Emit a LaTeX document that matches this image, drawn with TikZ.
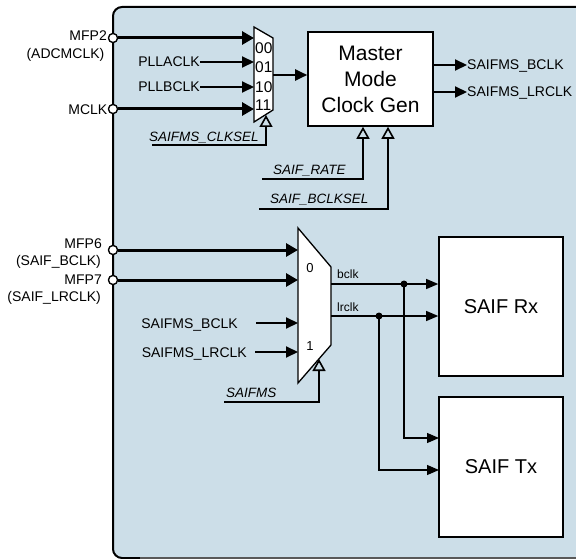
\documentclass[tikz,border=0pt]{standalone}
\usepackage{fontspec}
\setmainfont{Liberation Sans}
\usetikzlibrary{arrows.meta}
\definecolor{panel}{RGB}{204,222,232}
\begin{document}
\begin{tikzpicture}[x=1pt,y=-1pt,
  lbl/.style={inner sep=0pt, text height=10pt, text depth=0pt, font=\fontsize{14}{16}\selectfont},
  ilbl/.style={lbl, font=\fontsize{13.5}{16}\selectfont\itshape},
  slbl/.style={inner sep=0pt, text height=8.6pt, text depth=0pt, font=\fontsize{12}{14}\selectfont},
  sel/.style={inner sep=0pt, text height=11pt, text depth=0pt, font=\fontsize{15.5}{18}\selectfont},
  port/.style={circle, draw, fill=white, minimum size=9pt, inner sep=0pt, line width=1.2pt},
  jdot/.style={circle, fill, minimum size=7pt, inner sep=0pt},
  blk/.style={draw, fill=white, line width=1.6pt, inner sep=0pt},
  muxshape/.style={draw, fill=white, line width=1.3pt, line join=miter},
  thicksig/.style={line width=3pt, -{Triangle[length=12pt, width=13pt]}},
  sig/.style={line width=2pt, -{Triangle[length=12pt, width=11pt]}},
  thinsig/.style={line width=1.2pt, -{Triangle[length=12pt, width=10pt]}},
  ctrl/.style={line width=1.6pt, -{Triangle[open, length=12pt, width=13pt, line width=1.6pt]}}
]
\useasboundingbox (0,0) rectangle (576,559);
% panel
\begin{scope}
  \clip (0,0) rectangle (576,559);
  \fill[panel, rounded corners=9pt] (113,7) rectangle (620,558);
  \draw[line width=2pt, rounded corners=9pt] (620,7) -- (113,7) -- (113,558) -- (140,558);
  \draw[line width=1.6pt, black!65] (140,558) -- (620,558);
\end{scope}

% ---------- Mux 1 ----------
\draw[muxshape] (254,27) -- (273,38) -- (273,110) -- (254,122) -- cycle;
\coordinate (m1i0) at (254,38);
\coordinate (m1i1) at (254,62);
\coordinate (m1i2) at (254,87);
\coordinate (m1i3) at (254,109);
\coordinate (m1o) at (273,75);
\coordinate (m1sel) at (266,115);
\node[sel, anchor=west] (s00) at (255,48) {00};
\node[sel, anchor=west] (s01) at (255,67) {01};
\node[sel, anchor=west] (s10) at (255,87) {10};
\node[sel, anchor=west] (s11) at (255,105) {11};

% inputs of mux 1
\node[port] (pmfp2) at (113,38) {};
\node[port] (pmclk) at (113,109) {};
\node[lbl, anchor=east] (tmfp2) at (107,36) {MFP2};
\node[lbl, anchor=east] (tadc) at (104.5,53.3) {(ADCMCLK)};
\node[lbl, anchor=east] (tmclk) at (107.5,110) {MCLK};
\node[lbl, anchor=east] (tplla) at (200,62) {PLLACLK};
\node[lbl, anchor=east] (tpllb) at (200,87) {PLLBCLK};
\draw[thicksig] (pmfp2) -- (m1i0);
\draw[sig] (tplla.east) -- (m1i1);
\draw[sig] (tpllb.east) -- (m1i2);
\draw[thicksig] (pmclk) -- (m1i3);
\node[port] at (pmfp2) {};
\node[port] at (pmclk) {};

% select of mux 1
\node[ilbl, anchor=west] (tclksel) at (149,137) {SAIFMS\_CLKSEL};
\coordinate (c1s) at (152,145);
\draw[ctrl] (c1s) -| (m1sel);

% ---------- Master Mode Clock Gen ----------
\node[blk, minimum width=125pt, minimum height=94pt, align=center,
      font=\fontsize{21}{26}\selectfont] (mcg) at (370.5,79) {Master\\Mode\\Clock Gen};
\draw[sig] (m1o) -- (m1o -| mcg.west);
\node[lbl, anchor=west] (obclk) at (467,65) {SAIFMS\_BCLK};
\node[lbl, anchor=west] (olrclk) at (467,92) {SAIFMS\_LRCLK};
\draw[sig] (obclk.west -| mcg.east) -- (obclk.west);
\draw[sig] (olrclk.west -| mcg.east) -- (olrclk.west);

\node[ilbl, anchor=west] (trate) at (273,170) {SAIF\_RATE};
\node[ilbl, anchor=west] (tbclksel) at (270,199) {SAIF\_BCLKSEL};
\coordinate (c2s) at (262,179);
\coordinate (c3s) at (259,209);
\draw[ctrl] (c2s) -| ([xshift=-7.5pt]mcg.south);
\draw[ctrl] (c3s) -| ([xshift=17.5pt]mcg.south);

% ---------- Mux 2 ----------
\draw[muxshape] (298,228) -- (331,267) -- (331,345) -- (298,383) -- cycle;
\coordinate (m2i0) at (298,250);
\coordinate (m2i1) at (298,280);
\coordinate (m2i2) at (298,323);
\coordinate (m2i3) at (298,352);
\coordinate (m2o0) at (331,284);
\coordinate (m2o1) at (331,316);
\coordinate (m2sel) at (319,359);
\node[lbl, font=\fontsize{13}{15}\selectfont] (s0) at (310,267.5) {0};
\node[lbl, font=\fontsize{13}{15}\selectfont] (s1) at (310,345) {1};

\node[port] (pmfp6) at (113,250) {};
\node[port] (pmfp7) at (113,280) {};
\node[lbl, anchor=east] (tmfp6) at (102,243) {MFP6};
\node[lbl, anchor=east] (tsbclk) at (101,260) {(SAIF\_BCLK)};
\node[lbl, anchor=east] (tmfp7) at (102,279.5) {MFP7};
\node[lbl, anchor=east] (tslrclk) at (101,296.5) {(SAIF\_LRCLK)};
\draw[thicksig] (pmfp6) -- (m2i0);
\draw[thicksig] (pmfp7) -- (m2i1);
\node[port] at (pmfp6) {};
\node[port] at (pmfp7) {};

\node[lbl, anchor=east] (ibclk) at (238,323) {SAIFMS\_BCLK};
\node[lbl, anchor=east] (ilrclk) at (247,352) {SAIFMS\_LRCLK};
\draw[sig] ([xshift=18pt]ibclk.east) -- (m2i2);
\draw[sig] ([xshift=8pt]ilrclk.east) -- (m2i3);

\node[ilbl, anchor=west] (tsaifms) at (226,392.5) {SAIFMS};
\coordinate (c4s) at (224,402);
\draw[ctrl] (c4s) -| (m2sel);

% ---------- SAIF Rx / Tx ----------
\node[blk, minimum width=124pt, minimum height=139pt, font=\fontsize{20}{24}\selectfont] (rx) at (501,306.5) {SAIF Rx};
\node[blk, minimum width=124pt, minimum height=140pt, font=\fontsize{20}{24}\selectfont] (tx) at (501,467) {SAIF Tx};
\coordinate (txb) at (439,438);
\coordinate (txl) at (439,470);

\node[slbl, anchor=west] (tbclk) at (337,274) {bclk};
\node[slbl, anchor=west] (tlrclk) at (337,307) {lrclk};
\draw[thinsig] (m2o0) -- (m2o0 -| rx.west);
\draw[thinsig] (m2o1) -- (m2o1 -| rx.west);
\node[jdot] (dbclk) at (404,284) {};
\node[jdot] (dlrclk) at (379,316) {};
\draw[thinsig] (dbclk.center) |- (txb);
\draw[thinsig] (dlrclk.center) |- (txl);
\end{tikzpicture}
\end{document}
